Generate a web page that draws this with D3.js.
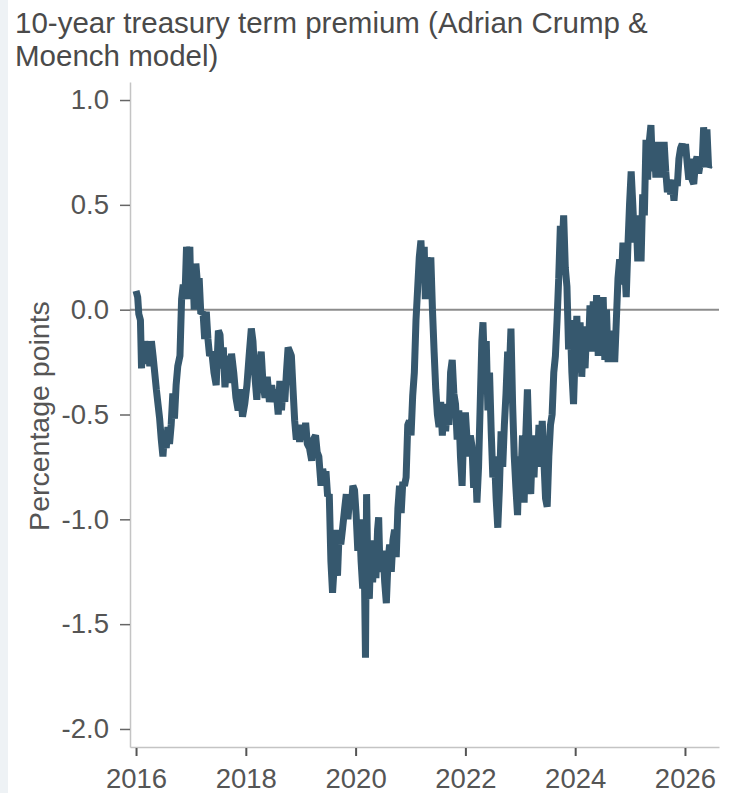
<!DOCTYPE html>
<html>
<head>
<meta charset="utf-8">
<script src="https://cdn.jsdelivr.net/npm/d3@7"></script>
<style>
  html, body { margin: 0; padding: 0; background: #fff; }
  svg { display: block; font-family: "Liberation Sans", Arial, Helvetica, sans-serif; }
</style>
</head>
<body>
<svg id="chart" width="730" height="793"></svg>
<script>
// ---- Data (decimal years, term premium in percentage points) ----
const years = [
  2016.00,2016.03,2016.05,2016.08,2016.10,2016.12,2016.14,2016.16,2016.19,2016.22,
  2016.25,2016.28,2016.31,2016.34,2016.37,2016.40,2016.43,2016.46,2016.49,2016.52,
  2016.55,2016.58,2016.61,2016.64,2016.67,2016.70,2016.73,2016.76,2016.80,2016.83,
  2016.86,2016.89,2016.92,2016.95,2016.98,2017.00,2017.03,2017.06,2017.09,2017.12,
  2017.15,2017.18,2017.22,2017.25,2017.28,2017.31,2017.34,2017.38,2017.42,2017.46,
  2017.50,2017.53,2017.56,2017.59,2017.62,2017.66,2017.70,2017.74,2017.78,2017.82,
  2017.86,2017.90,2017.94,2017.98,2018.02,2018.06,2018.10,2018.13,2018.16,2018.20,
  2018.24,2018.28,2018.31,2018.35,2018.39,2018.43,2018.47,2018.51,2018.55,2018.59,
  2018.62,2018.65,2018.68,2018.71,2018.74,2018.77,2018.80,2018.83,2018.86,2018.89,
  2018.92,2018.95,2018.98,2019.02,2019.06,2019.09,2019.12,2019.16,2019.20,2019.23,
  2019.27,2019.30,2019.33,2019.37,2019.40,2019.43,2019.46,2019.49,2019.52,2019.55,
  2019.58,2019.61,2019.64,2019.67,2019.70,2019.73,2019.76,2019.80,2019.83,2019.86,
  2019.89,2019.92,2019.95,2019.98,2020.01,2020.04,2020.07,2020.10,2020.13,2020.16,
  2020.18,2020.20,2020.22,2020.25,2020.28,2020.31,2020.34,2020.37,2020.40,2020.42,
  2020.44,2020.47,2020.50,2020.53,2020.56,2020.59,2020.62,2020.65,2020.68,2020.71,
  2020.74,2020.77,2020.80,2020.83,2020.86,2020.89,2020.92,2020.95,2020.98,2021.01,
  2021.04,2021.07,2021.10,2021.13,2021.16,2021.19,2021.22,2021.25,2021.27,2021.30,
  2021.33,2021.37,2021.40,2021.43,2021.46,2021.49,2021.52,2021.55,2021.58,2021.61,
  2021.64,2021.67,2021.70,2021.73,2021.76,2021.79,2021.82,2021.85,2021.88,2021.91,
  2021.94,2021.97,2022.00,2022.03,2022.06,2022.09,2022.12,2022.15,2022.18,2022.21,
  2022.24,2022.27,2022.30,2022.32,2022.35,2022.38,2022.41,2022.44,2022.47,2022.50,
  2022.53,2022.56,2022.59,2022.62,2022.65,2022.68,2022.71,2022.74,2022.77,2022.80,
  2022.83,2022.86,2022.89,2022.92,2022.95,2022.98,2023.01,2023.04,2023.07,2023.10,
  2023.13,2023.16,2023.19,2023.22,2023.25,2023.28,2023.31,2023.34,2023.37,2023.40,
  2023.43,2023.46,2023.49,2023.52,2023.55,2023.58,2023.61,2023.64,2023.67,2023.70,
  2023.73,2023.76,2023.79,2023.82,2023.85,2023.88,2023.91,2023.94,2023.97,2024.00,
  2024.03,2024.06,2024.09,2024.12,2024.15,2024.18,2024.21,2024.24,2024.27,2024.30,
  2024.33,2024.36,2024.39,2024.42,2024.45,2024.48,2024.51,2024.54,2024.57,2024.60,
  2024.63,2024.66,2024.69,2024.72,2024.75,2024.78,2024.81,2024.84,2024.87,2024.90,
  2024.93,2024.96,2024.99,2025.02,2025.05,2025.08,2025.11,2025.14,2025.17,2025.20,
  2025.23,2025.26,2025.29,2025.32,2025.35,2025.38,2025.41,2025.44,2025.47,2025.50,
  2025.53,2025.56,2025.59,2025.62,2025.65,2025.68,2025.71,2025.74,2025.77,2025.80,
  2025.83,2025.86,2025.89,2025.92,2025.95,2025.98,2026.01,2026.04,2026.07,2026.10,
  2026.13,2026.16,2026.19,2026.22,2026.25,2026.28,2026.31,2026.34,2026.37,2026.40,
  2026.43,2026.45
];
const premium = [
   0.09, 0.06,-0.02,-0.05,-0.28,-0.15,-0.26,-0.15,-0.24,-0.16,
  -0.27,-0.15,-0.22,-0.30,-0.38,-0.45,-0.52,-0.62,-0.70,-0.58,
  -0.66,-0.56,-0.64,-0.55,-0.40,-0.52,-0.36,-0.27,-0.22, 0.05,
   0.12, 0.05, 0.30, 0.20, 0.30, 0.05, 0.22, 0.00, 0.22, 0.12,
   0.15,-0.02,-0.01,-0.14,-0.01,-0.14,-0.22,-0.20,-0.30,-0.36,
  -0.10,-0.12,-0.28,-0.18,-0.37,-0.22,-0.35,-0.21,-0.30,-0.42,
  -0.48,-0.38,-0.51,-0.45,-0.36,-0.22,-0.09,-0.15,-0.30,-0.43,
  -0.28,-0.20,-0.34,-0.42,-0.32,-0.44,-0.36,-0.44,-0.38,-0.50,
  -0.34,-0.48,-0.36,-0.44,-0.30,-0.18,-0.20,-0.22,-0.38,-0.53,
  -0.62,-0.56,-0.63,-0.55,-0.60,-0.54,-0.64,-0.66,-0.72,-0.62,
  -0.60,-0.68,-0.70,-0.84,-0.76,-0.80,-0.77,-0.89,-0.88,-1.20,
  -1.35,-1.22,-1.05,-1.27,-1.06,-1.12,-1.05,-0.95,-0.88,-1.00,
  -0.90,-0.95,-0.84,-0.86,-0.98,-1.15,-1.00,-1.20,-1.33,-1.25,
  -1.66,-0.88,-1.20,-1.38,-1.10,-1.30,-1.15,-1.28,-1.05,-0.99,
  -1.20,-1.25,-1.15,-1.30,-1.40,-1.20,-1.12,-1.25,-1.10,-1.05,
  -1.18,-0.95,-0.84,-0.97,-0.82,-0.84,-0.80,-0.55,-0.53,-0.60,
  -0.41,-0.30,-0.05, 0.10, 0.25, 0.33, 0.15, 0.30, 0.05, 0.25,
   0.10, 0.25, 0.00,-0.20,-0.38,-0.50,-0.56,-0.44,-0.60,-0.45,
  -0.58,-0.46,-0.55,-0.30,-0.24,-0.40,-0.45,-0.62,-0.48,-0.70,
  -0.84,-0.56,-0.49,-0.62,-0.70,-0.60,-0.65,-0.85,-0.70,-0.92,
  -0.75,-0.45,-0.15,-0.06,-0.30,-0.15,-0.48,-0.30,-0.58,-0.80,
  -0.70,-0.90,-1.04,-0.85,-0.58,-0.75,-0.55,-0.40,-0.20,-0.30,
  -0.09,-0.45,-0.70,-0.85,-0.98,-0.70,-0.82,-0.60,-0.92,-0.60,
  -0.38,-0.65,-0.88,-0.65,-0.80,-0.60,-0.75,-0.55,-0.70,-0.53,
  -0.72,-0.90,-0.94,-0.70,-0.55,-0.50,-0.30,-0.22,-0.05, 0.15,
   0.40, 0.28, 0.45, 0.20, 0.11,-0.19,-0.05,-0.30,-0.45,-0.20,
  -0.03,-0.30,-0.06,-0.32,-0.10,-0.28,-0.08,-0.20, 0.02,-0.15,
   0.04,-0.20, 0.07,-0.22,-0.05,-0.18, 0.06,-0.24, 0.00,-0.25,
  -0.10,-0.24,-0.12,-0.25,-0.05, 0.15, 0.24, 0.12, 0.32, 0.22,
   0.06, 0.30, 0.50, 0.66, 0.50, 0.32, 0.45, 0.23, 0.40, 0.23,
   0.55, 0.45, 0.81, 0.62, 0.80, 0.88, 0.66, 0.80, 0.63, 0.78,
   0.64, 0.80, 0.63, 0.80, 0.66, 0.56, 0.62, 0.55, 0.60, 0.52,
   0.62, 0.59, 0.72, 0.77, 0.79, 0.76, 0.79, 0.70, 0.62, 0.72,
   0.62, 0.60, 0.70, 0.73, 0.65, 0.70, 0.68, 0.87, 0.70, 0.86,
   0.68, 0.69
];
const xTicks = [2016, 2018, 2020, 2022, 2024, 2026];
const yTicks = [-2.0, -1.5, -1.0, -0.5, 0.0, 0.5, 1.0];
const titleLines = ["10-year treasury term premium (Adrian Crump &", "Moench model)"];
const yLabel = "Percentage points";

const data = years.map((yr, i) => ({ x: yr, v: premium[i] }));

const svg = d3.select("#chart");
const plotLeft = 130, plotRight = 719, plotTop = 82, plotBottom = 747;

// light strip on the left edge
svg.append("rect").attr("x", 0).attr("y", 0).attr("width", 8).attr("height", 793).attr("fill", "#eef2f5");

const x = d3.scaleLinear().domain([2015.89, 2026.62]).range([plotLeft, plotRight]);
const y = d3.scaleLinear().domain([-2.086, 1.086]).range([plotBottom, plotTop]);

// title
const title = svg.append("text").attr("x", 15).attr("fill", "#4a4a4a")
  .style("font-size", "29.5px");
titleLines.forEach((t, i) => {
  title.append("tspan").attr("x", 15).attr("y", 33 + i * 32.5).text(t);
});

// y axis
const yAxis = d3.axisLeft(y).tickValues(yTicks).tickSize(10).tickSizeOuter(0).tickPadding(11)
  .tickFormat(d => d.toFixed(1));
const gy = svg.append("g").attr("transform", `translate(${plotLeft},0)`).call(yAxis);
gy.select(".domain").attr("stroke", "#c4c4c4").attr("stroke-width", 1.5);
gy.selectAll(".tick line").attr("stroke", "#666").attr("stroke-width", 1.5);
gy.selectAll(".tick text").attr("fill", "#555").style("font-size", "27.5px").style("font-family", "Liberation Sans, Arial, sans-serif");

// x axis
const xAxis = d3.axisBottom(x).tickValues(xTicks).tickSize(9).tickSizeOuter(0).tickPadding(12)
  .tickFormat(d3.format("d"));
const gx = svg.append("g").attr("transform", `translate(0,${plotBottom})`).call(xAxis);
gx.select(".domain").attr("stroke", "#c4c4c4").attr("stroke-width", 1.5);
gx.selectAll(".tick line").attr("stroke", "#555").attr("stroke-width", 2).attr("y1", 1);
gx.selectAll(".tick text").attr("fill", "#555").style("font-size", "27.5px").style("font-family", "Liberation Sans, Arial, sans-serif");

// y axis label
svg.append("text")
  .attr("transform", `translate(49,416) rotate(-90)`)
  .attr("text-anchor", "middle")
  .attr("fill", "#555")
  .style("font-size", "28.5px")
  .text(yLabel);

// zero line
svg.append("line")
  .attr("x1", plotLeft).attr("x2", plotRight)
  .attr("y1", y(0)).attr("y2", y(0))
  .attr("stroke", "#8c8c8c").attr("stroke-width", 2);

// data line
const line = d3.line().x(d => x(d.x)).y(d => y(d.v));
svg.append("path")
  .datum(data)
  .attr("d", line)
  .attr("fill", "none")
  .attr("stroke", "#36586e")
  .attr("stroke-width", 7)
  .attr("stroke-linejoin", "bevel");
</script>
</body>
</html>
